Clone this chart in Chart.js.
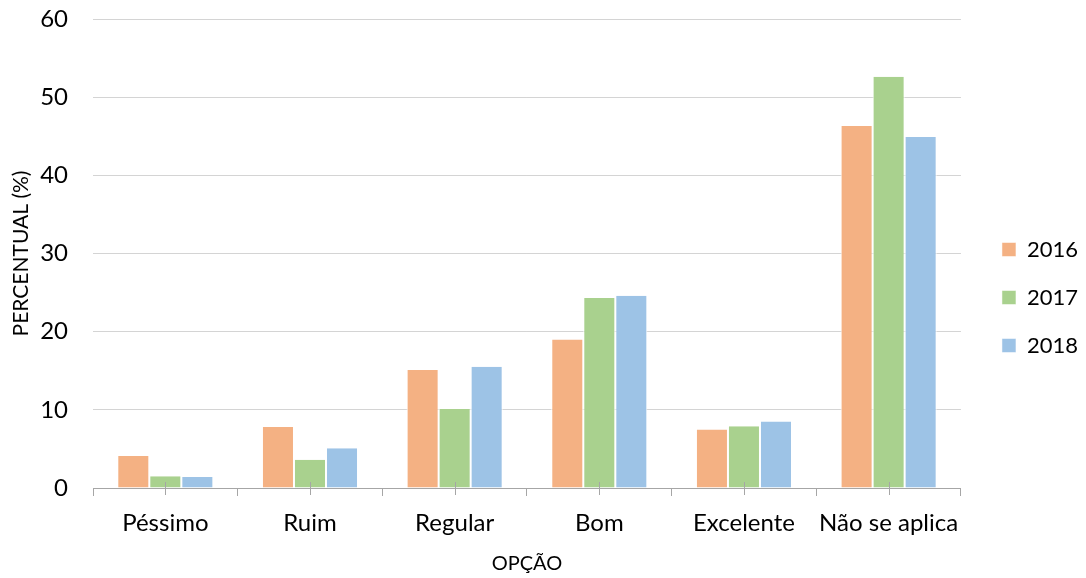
<!DOCTYPE html>
<html>
<head>
<meta charset="utf-8">
<script src="https://cdn.jsdelivr.net/npm/chart.js@4.4.1/dist/chart.umd.min.js"></script>
<style>
  html, body { margin: 0; padding: 0; background: #fff; }
  #wrap { width: 1086px; height: 578px; position: relative; }
</style>
</head>
<body>
<div id="wrap"><canvas id="chart"></canvas></div>
<script>
// --- Data ---
const categories = ["Péssimo", "Ruim", "Regular", "Bom", "Excelente", "Não se aplica"];
const years = ["2016", "2017", "2018"];
const values2016 = [4.1, 7.8, 15.1, 19.0, 7.5, 46.3];
const values2017 = [1.5, 3.6, 10.1, 24.3, 7.9, 52.6];
const values2018 = [1.4, 5.1, 15.5, 24.6, 8.5, 44.9];
const colors = ["#F4B183", "#A9D18E", "#9DC3E6"];

const FONT = "Lato, 'Open Sans', sans-serif";

// short ticks at each category centre, crossing the x axis
const centerTicks = {
  id: "centerTicks",
  afterDraw(chart) {
    const x = chart.scales.x;
    const ctx = chart.ctx;
    ctx.save();
    ctx.strokeStyle = "#a6a6a6";
    ctx.lineWidth = 1;
    categories.forEach((c, i) => {
      const px = Math.round(x.getPixelForValue(i)) + 0.5;
      ctx.beginPath();
      ctx.moveTo(px, x.top - 6);
      ctx.lineTo(px, x.top + 7);
      ctx.stroke();
    });
    ctx.restore();
  },
};

// nudge the legend a bit right and up, like the original
const legendNudge = {
  id: "legendNudge",
  afterLayout(chart) {
    const lg = chart.legend;
    if (!lg) return;
    lg.left += 15; lg.right += 15;
    lg.top -= 1; lg.bottom -= 1;
  },
};

new Chart(document.getElementById("chart"), {
  type: "bar",
  data: {
    labels: categories,
    datasets: [
      { label: years[0], data: values2016, backgroundColor: colors[0] },
      { label: years[1], data: values2017, backgroundColor: colors[1] },
      { label: years[2], data: values2018, backgroundColor: colors[2] },
    ].map((d) => ({ ...d, borderColor: "#ffffff", borderWidth: { left: 1, right: 1, top: 0, bottom: 0 }, borderSkipped: false })),
  },
  options: {
    responsive: true,
    maintainAspectRatio: false,
    animation: false,
    layout: { padding: { top: 19, right: 13, left: 9, bottom: 0 } },
    datasets: { bar: { categoryPercentage: 0.664, barPercentage: 1.0 } },
    plugins: {
      legend: {
        position: "right",
        labels: {
          color: "#000",
          font: { family: FONT, size: 22 },
          boxWidth: 14,
          boxHeight: 14,
          padding: 26,
        },
      },
      tooltip: { enabled: false },
    },
    scales: {
      x: {
        offset: true,
        grid: {
          offset: true,
          drawOnChartArea: false,
          drawTicks: true,
          tickLength: 8,
          color: "#a6a6a6",
        },
        border: { color: "#a6a6a6", width: 1 },
        ticks: { color: "#000", font: { family: FONT, size: 24 }, padding: 13, maxRotation: 0, autoSkip: false },
        title: { display: true, text: "OPÇÃO", color: "#000", font: { family: FONT, size: 20 }, padding: { top: 4, bottom: 2 } },
        afterFit: (s) => { s.height = 90; s.paddingLeft = 0; s.paddingRight = 0; },
      },
      y: {
        min: 0,
        max: 60,
        ticks: { stepSize: 10, color: "#000", font: { family: FONT, size: 24 }, padding: 25 },
        grid: { color: "#d4d4d4", drawTicks: false },
        border: { display: false },
        title: { display: true, text: "PERCENTUAL (%)", color: "#000", font: { family: FONT, size: 21 }, padding: { top: 0, bottom: 0 } },
        afterFit: (s) => { s.width = 84; s.paddingTop = 0; s.paddingBottom = 0; },
      },
    },
  },
  plugins: [centerTicks, legendNudge],
});
</script>
</body>
</html>
